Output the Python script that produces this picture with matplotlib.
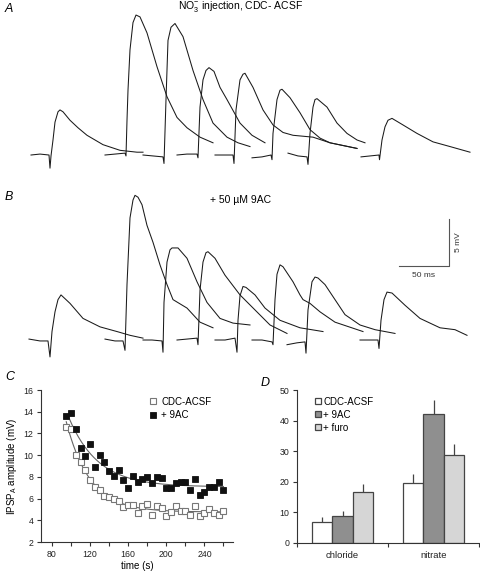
import numpy as np
import matplotlib
matplotlib.use("Agg")
import matplotlib.pyplot as plt

plt.rcParams['font.family'] = ['Liberation Sans', 'DejaVu Sans']
plt.rcParams['mathtext.fontset'] = 'custom'
plt.rcParams['mathtext.rm'] = 'Liberation Sans'
plt.rcParams['mathtext.it'] = 'Liberation Sans:italic'

# ---- panel A traces (time in ms, voltage in mV relative to baseline) ----
a_t = [
    [31, 40, 49, 50, 51, 53, 55, 58, 60, 63, 70, 78, 87, 95, 103, 120, 137, 143],
    [105, 115, 125, 126, 127, 128, 130, 133, 136, 140, 147, 157, 167, 177, 187, 200, 213],
    [143, 153, 163, 164, 166, 168, 171, 175, 183, 193, 203, 213, 227, 238, 250],
    [177, 187, 197, 198, 200, 203, 206, 209, 214, 220, 227, 240, 252, 265],
    [215, 225, 233, 234, 236, 240, 243, 245, 253, 263, 273, 283, 293, 313, 330, 357],
    [252, 262, 271, 272, 273, 277, 280, 282, 290, 300, 310, 320, 330, 357],
    [288, 298, 307, 308, 310, 313, 315, 317, 327, 337, 347, 357, 365],
    [361, 370, 379, 379.5, 382, 385, 388, 392, 403, 417, 433, 450, 470],
]
a_v = [
    [0, 0.1, 0, -1.4, -0.1, 1.6, 3.5, 4.6, 4.8, 4.6, 3.7, 2.9, 2.1, 1.6, 1.1, 0.5, 0.3, 0.3],
    [0, 0.1, 0.2, -0.1, 3.7, 6.9, 11.2, 14.1, 14.9, 14.7, 13.0, 9.4, 6.2, 4.0, 2.9, 1.9, 1.3],
    [0, -0.1, -0.2, -0.9, 5.9, 12.2, 13.6, 14.0, 12.6, 9.0, 5.9, 3.4, 1.9, 1.3, 0.9],
    [0, 0.1, 0.1, -0.3, 5.1, 8.0, 9.0, 9.3, 8.9, 7.2, 5.9, 3.4, 2.1, 1.3],
    [0, 0, 0, -0.9, 4.8, 8.0, 8.6, 8.7, 7.2, 4.8, 3.2, 2.4, 2.1, 1.9, 1.3, 0.7],
    [-0.3, -0.2, 0, -0.5, 2.3, 5.9, 6.9, 7.0, 6.1, 4.5, 2.7, 1.8, 1.3, 0.7],
    [0.2, -0.1, -0.2, -1.0, 2.3, 5.1, 5.9, 6.0, 5.1, 3.4, 2.3, 1.6, 1.3],
    [-0.2, -0.1, 0, -0.5, 1.6, 3.0, 3.7, 3.9, 3.2, 2.3, 1.4, 0.9, 0.3],
]

# ---- panel B traces ----
b_t = [
    [29, 40, 48, 50, 52, 55, 58, 61, 70, 83, 100, 117, 130, 143],
    [105, 115, 123, 125, 127, 130, 133, 135, 138, 142, 147, 153, 160, 167, 173, 187, 200, 213],
    [143, 152, 162, 163, 164, 167, 170, 172, 178, 187, 197, 207, 220, 233, 250],
    [177, 187, 197, 198, 200, 203, 206, 208, 215, 225, 240, 255, 270, 287],
    [215, 225, 235, 237, 238, 240, 243, 246, 255, 265, 280, 300, 323],
    [252, 262, 272, 273, 275, 277, 280, 283, 293, 300, 303, 310, 320, 335, 363],
    [287, 297, 305, 306, 308, 312, 315, 318, 325, 335, 345, 360, 375, 395],
    [360, 370, 378, 379, 381, 384, 387, 392, 405, 420, 440, 455, 467],
]
b_v = [
    [0.1, -0.1, -0.1, -1.8, 0.9, 3.0, 4.3, 4.8, 3.9, 2.3, 1.4, 0.9, 0.5, 0.2],
    [0.1, -0.1, -0.1, -1.1, 5.9, 13.0, 14.9, 15.4, 15.2, 14.4, 12.2, 10.4, 8.0, 5.9, 4.3, 3.4, 1.9, 1.3],
    [0, 0, -0.1, -1.3, 4.0, 8.3, 9.6, 9.8, 9.8, 8.7, 6.2, 4.0, 2.3, 1.8, 1.6],
    [0, 0.1, 0.2, -0.5, 5.3, 8.3, 9.3, 9.4, 8.7, 6.9, 4.8, 3.2, 1.6, 0.7],
    [0, 0, 0.2, -1.3, 2.1, 4.7, 5.7, 5.6, 4.8, 3.4, 2.1, 1.3, 0.9],
    [0, 0, -0.2, -0.5, 4.3, 7.0, 8.0, 7.8, 6.2, 4.8, 4.3, 3.9, 3.0, 1.9, 0.9],
    [-0.5, -0.3, -0.2, -1.4, 3.2, 6.2, 6.7, 6.6, 5.9, 4.3, 2.7, 1.6, 1.1, 0.7],
    [0, 0, 0, -0.9, 2.1, 4.3, 5.1, 5.0, 3.7, 2.3, 1.3, 1.1, 0.5],
]

# ---- panel C ----
time_s = [95, 100, 105, 110, 115, 120, 125, 130, 135, 140, 145, 150, 155, 160, 165, 170, 175,
          180, 185, 190, 195, 200, 205, 210, 215, 220, 225, 230, 235, 240, 245, 250, 255, 260]
amp_cdc = [12.6, 12.4, 10.0, 9.4, 8.6, 7.7, 7.1, 6.8, 6.2, 6.1, 6.0, 5.8, 5.2, 5.4, 5.4, 4.7, 5.3,
           5.5, 4.5, 5.3, 5.1, 4.4, 4.8, 5.3, 4.9, 4.9, 4.5, 5.3, 4.4, 4.7, 5.0, 4.7, 4.5, 4.9]
amp_9ac = [13.6, 13.9, 12.4, 10.7, 9.9, 11.0, 8.9, 10.0, 9.4, 8.5, 8.1, 8.6, 7.7, 7.0, 8.1, 7.5, 7.8,
           8.0, 7.4, 8.0, 7.9, 7.0, 7.0, 7.4, 7.5, 7.5, 6.8, 7.8, 6.3, 6.6, 7.1, 7.1, 7.5, 6.8]

# ---- panel D ----
groups = ['chloride', 'nitrate']
bar_cdc = [6.8, 19.4]
err_cdc = [1.5, 3.1]
bar_9ac = [8.7, 42.0]
err_9ac = [1.8, 4.8]
bar_furo = [16.7, 28.8]
err_furo = [2.6, 3.4]

W, H = 480, 572
fig = plt.figure(figsize=(4.8, 5.72), dpi=100)


def px_axes(x0, y0, x1, y1):
    return fig.add_axes([x0 / W, 1 - y1 / H, (x1 - x0) / W, (y1 - y0) / H])


def ftext(x, y, s, **kw):
    fig.text(x / W, 1 - y / H, s, **kw)


trace_col = '#1a1a1a'
for ax_rect, ts, vs in [((0, 0, 480, 180), a_t, a_v), ((0, 185, 480, 365), b_t, b_v)]:
    ax = px_axes(*ax_rect)
    for t, v in zip(ts, vs):
        ax.plot(t, v, color=trace_col, lw=0.75)
    ax.set_xlim(0, 480)
    ax.set_ylim(-2.66, 16.5)
    ax.axis('off')
    if ts is b_t:
        # scale bar 50 ms / 5 mV
        ax.plot([399, 449, 449], [7.9, 7.9, 12.9], color='#555555', lw=0.8)
        ax.text(424, 6.9, '50 ms', ha='center', va='center', fontsize=6, color='#333333')
        ax.text(459, 10.4, '5 mV', ha='center', va='center', rotation=90, fontsize=6, color='#333333')

ftext(5, 9, 'A', fontsize=9, style='italic', va='center')
ftext(241, 6, r'NO$_3^{-}$ injection, CDC- ACSF', fontsize=7.5, ha='center', va='center')
ftext(5, 197, 'B', fontsize=9, style='italic', va='center')
ftext(241, 200, '+ 50 µM 9AC', fontsize=7.5, ha='center', va='center')
ftext(5, 377, 'C', fontsize=9, style='italic', va='center')
ftext(261, 383, 'D', fontsize=9, style='italic', va='center')

spine_col = '#333333'

# ---- panel C ----
axc = px_axes(41, 390, 233, 542)
t_arr = np.array(time_s, dtype=float)


def exp_fit(t, y, t0):
    best = None
    for tau in np.linspace(5, 80, 751):
        A = np.column_stack([np.ones_like(t), np.exp(-(t - t0) / tau)])
        coef = np.linalg.lstsq(A, y, rcond=None)[0]
        r = np.sum((A @ coef - y) ** 2)
        if best is None or r < best[0]:
            best = (r, tau, coef)
    return best[1], best[2]


for y, t_start in [(amp_cdc, 95), (amp_9ac, 98)]:
    tau, coef = exp_fit(t_arr, np.array(y), 95)
    tt = np.linspace(t_start, 260, 200)
    axc.plot(tt, coef[0] + coef[1] * np.exp(-(tt - 95) / tau), color='#666666', lw=0.8, zorder=1)

axc.plot(time_s, amp_cdc, 's', ms=4, mfc='white', mec='#777777', mew=0.8, label='CDC-ACSF', zorder=3)
axc.plot(time_s, amp_9ac, 's', ms=4, mfc='#111111', mec='#111111', mew=0.6, label='+ 9AC', zorder=3)
axc.set_xlim(68.5, 270)
axc.set_ylim(2, 16)
axc.set_yticks(range(2, 17, 2))
axc.set_xticks([80, 120, 160, 200, 240])
axc.set_xticks([100, 140, 180, 220, 260], minor=True)
axc.set_xlabel('time (s)', fontsize=7, labelpad=1.5)
axc.set_ylabel(r'IPSP$_{\mathrm{A}}$ amplitude (mV)', fontsize=7, labelpad=3)
axc.legend(loc='upper left', bbox_to_anchor=(0.52, 1.0), frameon=False, fontsize=7,
           handlelength=1.0, handletextpad=0.4, borderpad=0.2, labelspacing=0.35)

# ---- panel D ----
axd = px_axes(297, 390, 479, 542.7)
xg = np.array([0.5, 1.5])
bw = 0.22
ecol = '#444444'
for off, vals, errs, fc, lab in [(-bw, bar_cdc, err_cdc, 'white', 'CDC-ACSF'),
                                 (0, bar_9ac, err_9ac, '#8f8f8f', '+ 9AC'),
                                 (bw, bar_furo, err_furo, '#d6d6d6', '+ furo')]:
    axd.bar(xg + off, vals, bw, color=fc, edgecolor=ecol, lw=0.9, label=lab, zorder=2)
    axd.errorbar(xg + off, vals, yerr=[np.zeros(2), errs], fmt='none', ecolor=ecol,
                 elinewidth=0.9, capsize=0, zorder=1)
axd.set_xlim(0, 2)
axd.set_ylim(0, 50)
axd.set_yticks(range(0, 51, 10))
axd.set_xticks(xg)
axd.set_xticklabels(groups)
axd.set_xticks([0, 1, 2], minor=True)
axd.legend(loc='upper left', bbox_to_anchor=(0.06, 1.0), frameon=False, fontsize=7,
           handlelength=0.6, handleheight=0.6, handletextpad=0.3, borderpad=0.2, labelspacing=0.3)

for ax in (axc, axd):
    for s in ('top', 'right'):
        ax.spines[s].set_visible(False)
    for s in ('left', 'bottom'):
        ax.spines[s].set_color(spine_col)
        ax.spines[s].set_linewidth(0.8)
    ax.tick_params(which='both', direction='out', length=3, width=0.8, color=spine_col,
                   labelsize=6.3, labelcolor='#222222', pad=2.5)
axd.tick_params(axis='x', which='major', length=0, pad=6, labelsize=6.8)

fig.savefig('out.png', dpi=100)
